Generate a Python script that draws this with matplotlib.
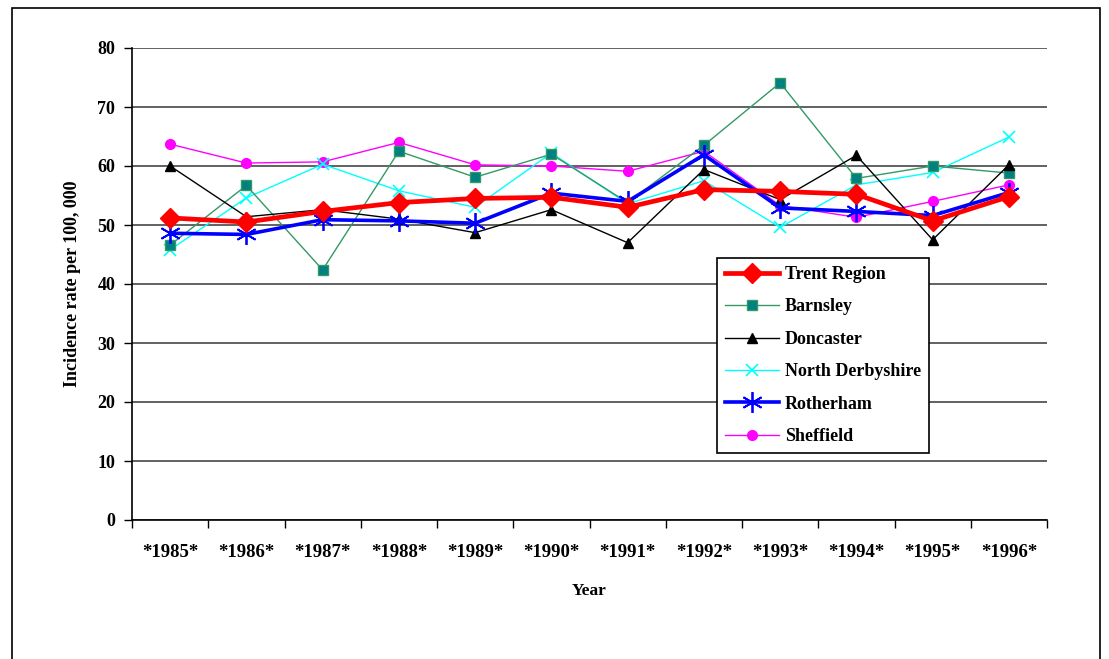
#!/usr/bin/env python3
"""Incidence rate per 100,000 by district, 1985-1996."""

import matplotlib

matplotlib.use("Agg")
import matplotlib.pyplot as plt
from matplotlib.patches import Rectangle

years = ["*1985*", "*1986*", "*1987*", "*1988*", "*1989*", "*1990*",
         "*1991*", "*1992*", "*1993*", "*1994*", "*1995*", "*1996*"]

trent = [51.2, 50.5, 52.3, 53.8, 54.5, 54.7, 53.0, 56.0, 55.7, 55.2, 50.7, 54.8]
barnsley = [46.6, 56.7, 42.4, 62.5, 58.1, 62.0, 53.8, 63.5, 74.1, 57.9, 60.0, 58.8]
doncaster = [60.0, 51.4, 52.6, 51.0, 48.7, 52.6, 47.0, 59.4, 54.3, 61.8, 47.5, 60.2]
north_derbyshire = [45.8, 54.6, 60.3, 55.8, 53.0, 62.2, 53.6, 57.5, 49.6, 56.8, 58.9, 64.9]
rotherham = [48.6, 48.4, 50.9, 50.7, 50.3, 55.4, 54.0, 61.9, 52.9, 52.3, 51.6, 55.5]
sheffield = [63.7, 60.5, 60.7, 64.0, 60.2, 60.0, 59.1, 62.5, 53.3, 51.3, 54.0, 56.8]

SERIF = ["Liberation Serif", "DejaVu Serif"]

fig = plt.figure(figsize=(11.09, 6.59), dpi=100)
fig.patches.append(Rectangle((12 / 1109, -0.1), (1100 - 12) / 1109, 1.1 - 8 / 659,
                             transform=fig.transFigure, fill=False,
                             edgecolor="black", linewidth=1.2))

ax = fig.add_axes([132 / 1109, 1 - 520 / 659, (1047 - 132) / 1109, (520 - 48) / 659])
x = list(range(len(years)))

# draw order: thin district lines first, thick summary lines on top
ax.plot(x, sheffield, color="#FF00FF", lw=1.0, marker="o", ms=7,
        mec="#FF00FF", mfc="#FF00FF", label="Sheffield", zorder=3)
ax.plot(x, north_derbyshire, color="#00FFFF", lw=1.0, marker="x", ms=8,
        mew=1.2, label="North Derbyshire", zorder=3)
ax.plot(x, barnsley, color="#339966", lw=1.0, marker="s", ms=7,
        mfc="#008080", mec="#339966", label="Barnsley", zorder=3)
ax.plot(x, doncaster, color="black", lw=1.0, marker="^", ms=7,
        label="Doncaster", zorder=3)
ax.plot(x, rotherham, color="#0000FF", lw=2.6, marker=(6, 2, 0), ms=15,
        mew=1.3, label="Rotherham", zorder=4)
ax.plot(x, trent, color="#FF0000", lw=3.4, marker="D", ms=10,
        label="Trent Region", zorder=5)

ax.set_xlim(-0.5, len(years) - 0.5)
ax.set_ylim(0, 80)
ax.set_yticks(range(0, 81, 10))
ax.yaxis.grid(True, color="#555555", lw=1.3)
ax.set_axisbelow(True)
for side in ("top", "right"):
    ax.spines[side].set_visible(False)
ax.spines["left"].set_linewidth(1.2)
ax.spines["bottom"].set_linewidth(1.2)

ax.set_xticks([i + 0.5 for i in range(-1, len(years))])
ax.set_xticklabels([])
ax.set_xticks(x, minor=True)
ax.set_xticklabels(years, minor=True, fontfamily=SERIF, fontweight="bold", fontsize=13.5)
ax.tick_params(axis="x", which="major", length=6, width=1, direction="out")
ax.tick_params(axis="x", which="minor", length=0, pad=17)
ax.tick_params(axis="y", length=6, width=1, direction="out", pad=6)
for lab in ax.get_yticklabels():
    lab.set_fontfamily(SERIF)
    lab.set_fontweight("bold")
    lab.set_fontsize(13)

ax.set_xlabel("Year", fontfamily=SERIF, fontweight="bold", fontsize=12.5, labelpad=16)
ax.set_ylabel("Incidence rate per 100, 000", fontfamily=SERIF, fontweight="bold",
              fontsize=13, labelpad=12)

handles, labels = ax.get_legend_handles_labels()
order = ["Trent Region", "Barnsley", "Doncaster", "North Derbyshire", "Rotherham", "Sheffield"]
hmap = dict(zip(labels, handles))
leg = ax.legend([hmap[k] for k in order], order,
                loc="upper left", bbox_to_anchor=(717 / 1109, 1 - 258 / 659),
                bbox_transform=fig.transFigure, borderaxespad=0, frameon=True,
                fancybox=False, edgecolor="black", framealpha=1, handlelength=3.0,
                labelspacing=0.85, borderpad=0.45, handletextpad=0.3,
                prop={"family": SERIF, "weight": "bold", "size": 13})
leg.get_frame().set_linewidth(1.2)

fig.savefig("out.png", dpi=100)
